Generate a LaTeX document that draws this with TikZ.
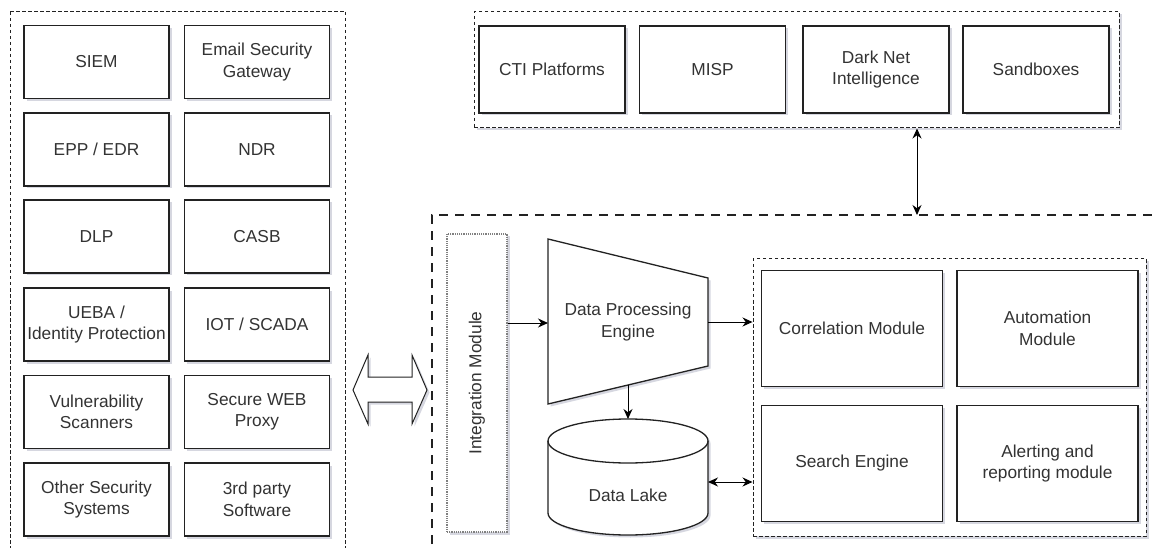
\documentclass[tikz,border=0pt]{standalone}
\usepackage{fontspec}
\setmainfont{Liberation Sans}
\usetikzlibrary{shadows,arrows.meta,calc}
\definecolor{txt}{HTML}{333333}
\definecolor{edge}{HTML}{222222}
\definecolor{shad}{HTML}{8A8FA8}
\tikzset{
  shadowed/.style={drop shadow={shadow xshift=2.5pt,shadow yshift=-2.5pt,opacity=0.35,fill=shad}},
  blk/.style={draw=edge,line width=1.3pt,fill=white,inner sep=0pt,text=txt,align=center,
    font=\fontsize{17.3}{21.5}\selectfont,shadowed},
  leftbox/.style={blk,minimum width=145pt,minimum height=73pt},
  topbox/.style={blk,minimum width=146pt,minimum height=87pt},
  rbox/.style={blk,minimum width=181pt,minimum height=116pt},
  smalldash/.style={draw=edge,line width=1pt,dash pattern=on 3.5pt off 2.5pt},
  bigdash/.style={draw=edge,line width=1.2pt,dash pattern=on 9pt off 7pt},
  arr/.style={draw=black,line width=1pt,-{Stealth[length=10pt,width=9pt]}},
  darr/.style={draw=black,line width=1pt,{Stealth[length=10pt,width=9pt]}-{Stealth[length=10pt,width=9pt]}},
  lbl/.style={text=txt,align=center,font=\fontsize{17.3}{21.5}\selectfont}
}
\begin{document}
\begin{tikzpicture}[x=1pt,y=-1pt]
\useasboundingbox (0,0) rectangle (1157,548);
\fill[white] (0,0) rectangle (1157,548);
\clip (0,0) rectangle (1157,548);

% containers
\draw[smalldash] (10,12) -- (10,560) (345,12) -- (345,560) (10,12) -- (345,12);
\node[smalldash,minimum width=645pt,minimum height=116pt,inner sep=0pt,shadowed,fill=white] (cti) at (796.5,70) {};
\draw[bigdash] (432,560) -- (432,215) -- (1175,215);
\coordinate (bigtop) at (917,215);

% left boxes
\node[leftbox] (siem) at (96.5,62) {SIEM};
\node[leftbox] (esg) at (257,62) {Email Security\\Gateway};
\node[leftbox] (epp) at (96.5,149.5) {EPP / EDR};
\node[leftbox] (ndr) at (257,149.5) {NDR};
\node[leftbox] (dlp) at (96.5,236.5) {DLP};
\node[leftbox] (casb) at (257,236.5) {CASB};
\node[leftbox] (ueba) at (96.5,324.5) {UEBA /\\Identity Protection};
\node[leftbox] (iot) at (257,324.5) {IOT / SCADA};
\node[leftbox] (vuln) at (96.5,412) {Vulnerability\\Scanners};
\node[leftbox] (swp) at (257,412) {Secure WEB\\Proxy};
\node[leftbox] (oss) at (96.5,499.5) {Other Security\\Systems};
\node[leftbox] (tps) at (257,499.5) {3rd party\\Software};

% top boxes
\node[topbox] (ctip) at (552,69.5) {CTI Platforms};
\node[topbox] (misp) at (712.5,69.5) {MISP};
\node[topbox] (dni) at (876,69.5) {Dark Net\\Intelligence};
\node[topbox] (sbx) at (1036,69.5) {Sandboxes};

% block double arrow
\draw[draw=edge,line width=1pt,fill=white,shadowed]
  (353,390) -- (368,355) -- (368,377) -- (412,377) -- (412,355) -- (427,390)
  -- (412,424) -- (412,402) -- (368,402) -- (368,424) -- cycle;

% integration module
\node[draw=gray,line width=1.2pt,densely dotted,fill=white,minimum width=60pt,minimum height=298pt,inner sep=0pt,shadowed] (im) at (477,383) {};
\node[lbl,rotate=90] (imt) at (im.center) {Integration Module};

% data processing engine (trapezoid)
\draw[draw=edge,line width=1.3pt,fill=white,shadowed] (548,239) -- (708,278) -- (708,366) -- (548,404) -- cycle;
\node[lbl] (dpe) at (628,322) {Data Processing\\Engine};
\coordinate (dpeW) at (548,323);
\coordinate (dpeE) at (708,322);
\coordinate (dpeS) at (628,385);

% data lake cylinder
\draw[draw=edge,line width=1.3pt,fill=white,shadowed]
  (548,441) -- (548,513) arc[start angle=180,end angle=0,x radius=80,y radius=22]
  -- (708,441) arc[start angle=0,end angle=-180,x radius=80,y radius=22] -- cycle;
\draw[draw=edge,line width=1.3pt] (548,441) arc[start angle=180,end angle=0,x radius=80,y radius=22];
\node[lbl] (dl) at (628,495) {Data Lake};
\coordinate (dlN) at (628,419);
\coordinate (dlE) at (708,482);

% inner right container
\node[smalldash,minimum width=393pt,minimum height=277pt,inner sep=0pt,fill=white,shadowed] (core) at (949.5,397.5) {};
\node[rbox] (corr) at (852,328.5) {Correlation Module};
\node[rbox] (auto) at (1047.5,328.5) {Automation\\Module};
\node[rbox] (srch) at (852,463.5) {Search Engine};
\node[rbox] (alrt) at (1047.5,463.5) {Alerting and\\reporting module};

% connectors
\draw[arr] (im.east |- dpeW) -- (dpeW);
\draw[arr] (dpeE) -- (dpeE -| core.west);
\draw[arr] (dpeS) -- (dlN);
\draw[darr] (dlE) -- (dlE -| core.west);
\draw[darr] (cti.south -| bigtop) -- (bigtop);
\end{tikzpicture}
\end{document}
